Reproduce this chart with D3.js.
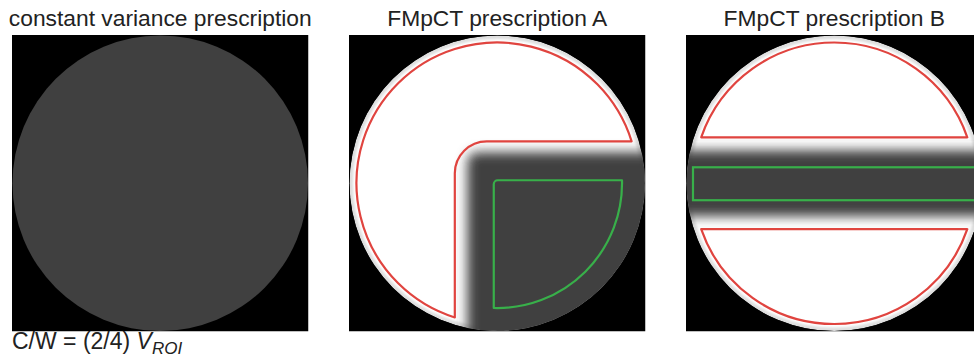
<!DOCTYPE html>
<html>
<head>
<meta charset="utf-8">
<script src="https://cdn.jsdelivr.net/npm/d3@7/dist/d3.min.js"></script>
<style>
  html, body { margin: 0; padding: 0; background: #fff; }
  svg { display: block; }
  text { font-family: "Liberation Sans", Arial, Helvetica, sans-serif; fill: #222; }
</style>
</head>
<body>
<svg id="chart" width="974" height="358"></svg>
<script>
// ---------------- data (phantom geometry, in image units, centre = 0) ----------------
const panelTitles = ["constant variance prescription", "FMpCT prescription A", "FMpCT prescription B"];
const panelKinds = ["constant", "quadrant", "band"];
const imageExtent = [-148.5, 148.5];
const phantomRadius = [148];          // object boundary
const rimInnerRadius = [144.5];       // inside of bright rim
const roiOuterRadius = [141];         // red ROI follows this radius
const grayLevels = { dark: 64, white: 255, rim: 222 };   // 8-bit display values

// prescription A (lower-right quadrant)
const quadDarkCorner = [-30, -31];    // low-variance mask corner (x, y)
const quadRedCorner = [-42.5, -42];   // red ROI inner corner
const quadRedCornerRadius = [32];
const quadGreenCorner = [-3.5, -3];   // green ROI corner
const quadGreenRadius = [125];

// prescription B (horizontal band)
const bandDarkHalf = [33];
const bandRedOffset = [46];
const bandGreen = [-16, 17];          // y extent of green ROI
const bandGreenHalfWidth = [141.5];

const footnote = { main: "C/W = (2/4) ", v: "V", sub: "ROI" };

// ---------------- layout ----------------
const panelSize = 296.5, panelTop = 35, panelStep = 337, panelLeft = 12;
const svg = d3.select("#chart");
const defs = svg.append("defs");
const redColor = "#e0443f", greenColor = "#38b04a";
const g2hex = v => d3.rgb(v, v, v).formatHex();

const x = d3.scaleLinear().domain(imageExtent).range([0, panelSize]);
const y = d3.scaleLinear().domain(imageExtent).range([0, panelSize]);
const r = d3.scaleLinear().domain([0, imageExtent[1] - imageExtent[0]]).range([0, panelSize]);

// filters
function blurFilter(id, sd) {
  defs.append("filter").attr("id", id)
    .attr("filterUnits", "userSpaceOnUse")
    .attr("x", -400).attr("y", -400).attr("width", 1800).attr("height", 1800)
    .append("feGaussianBlur").attr("stdDeviation", sd);
}
blurFilter("blurSoft", 1.1);
blurFilter("blurMask", 6);

panelKinds.forEach((kind, i) => {
  const gx = panelLeft + i * panelStep;
  const g = svg.append("g").attr("transform", `translate(${gx},${panelTop})`);

  // panel clip
  const clipId = "pclip" + i, circId = "cclip" + i;
  defs.append("clipPath").attr("id", clipId)
    .append("rect").attr("x", 0).attr("y", 0).attr("width", panelSize).attr("height", panelSize);
  defs.append("clipPath").attr("id", circId)
    .append("circle").attr("cx", x(0)).attr("cy", y(0)).attr("r", r(phantomRadius[0]));

  const body = g.append("g").attr("clip-path", `url(#${clipId})`);
  body.append("rect").attr("width", panelSize).attr("height", panelSize).attr("fill", "#000");

  // title
  svg.append("text")
    .attr("x", gx + x(0)).attr("y", 26)
    .attr("text-anchor", "middle")
    .attr("font-size", 22.8)
    .text(panelTitles[i]);

  if (kind === "constant") {
    body.append("circle").attr("cx", x(0)).attr("cy", y(0)).attr("r", r(phantomRadius[0]))
      .attr("fill", g2hex(grayLevels.dark));
    return;
  }

  const disk = body.append("g").attr("clip-path", `url(#${circId})`);
  disk.append("circle").attr("cx", x(0)).attr("cy", y(0)).attr("r", r(phantomRadius[0]))
    .attr("fill", g2hex(grayLevels.rim));
  disk.append("circle").attr("cx", x(0)).attr("cy", y(0)).attr("r", r(rimInnerRadius[0]))
    .attr("fill", g2hex(grayLevels.white)).attr("filter", "url(#blurSoft)");

  const R = roiOuterRadius[0];
  if (kind === "quadrant") {
    // low-variance (dark) region, smoothly blended
    disk.append("rect")
      .attr("x", x(quadDarkCorner[0])).attr("y", y(quadDarkCorner[1]))
      .attr("width", r(400)).attr("height", r(400))
      .attr("rx", r(10))
      .attr("fill", g2hex(grayLevels.dark))
      .attr("filter", "url(#blurMask)");

    // red ROI: disk minus the quadrant
    const [rx0, ry0] = quadRedCorner;
    const hx = Math.sqrt(R * R - ry0 * ry0);
    const vy = Math.sqrt(R * R - rx0 * rx0);
    const p = d3.path();
    p.moveTo(x(hx), y(ry0));
    p.arc(x(0), y(0), r(R), Math.atan2(ry0, hx), Math.atan2(vy, rx0), true);
    p.arcTo(x(rx0), y(ry0), x(hx), y(ry0), r(quadRedCornerRadius[0]));
    p.lineTo(x(hx), y(ry0));
    p.closePath();
    g.append("path").attr("d", p.toString())
      .attr("fill", "none").attr("stroke", redColor).attr("stroke-width", 2.2).attr("stroke-linejoin", "round");

    // green ROI: quadrant within radius
    const [qx, qy] = quadGreenCorner, GR = quadGreenRadius[0];
    const ex = Math.sqrt(GR * GR - qy * qy);
    const ey = Math.sqrt(GR * GR - qx * qx);
    const q = d3.path();
    q.moveTo(x(qx), y(qy + 6));
    q.arcTo(x(qx), y(qy), x(qx + 6), y(qy), r(4));
    q.lineTo(x(ex), y(qy));
    q.arc(x(0), y(0), r(GR), Math.atan2(qy, ex), Math.atan2(ey, qx), false);
    q.closePath();
    g.append("path").attr("d", q.toString())
      .attr("fill", "none").attr("stroke", greenColor).attr("stroke-width", 2.2).attr("stroke-linejoin", "round");
  } else {
    const H = bandDarkHalf[0];
    disk.append("rect")
      .attr("x", x(-400)).attr("y", y(-H))
      .attr("width", r(800)).attr("height", r(2 * H))
      .attr("fill", g2hex(grayLevels.dark))
      .attr("filter", "url(#blurMask)");

    const off = bandRedOffset[0];
    const hx = Math.sqrt(R * R - off * off);
    [-1, 1].forEach(s => {
      const p = d3.path();
      p.moveTo(x(-hx), y(s * off));
      if (s < 0) p.arc(x(0), y(0), r(R), Math.atan2(-off, -hx), Math.atan2(-off, hx), false);
      else p.arc(x(0), y(0), r(R), Math.atan2(off, -hx), Math.atan2(off, hx), true);
      p.closePath();
      g.append("path").attr("d", p.toString())
        .attr("fill", "none").attr("stroke", redColor).attr("stroke-width", 2.2).attr("stroke-linejoin", "round");
    });

    g.append("rect")
      .attr("x", x(-bandGreenHalfWidth[0])).attr("y", y(bandGreen[0]))
      .attr("width", r(2 * bandGreenHalfWidth[0])).attr("height", r(bandGreen[1] - bandGreen[0]))
      .attr("fill", "none").attr("stroke", greenColor).attr("stroke-width", 2.2);
  }
});

// footnote
const ft = svg.append("text").attr("x", 12).attr("y", 349).attr("font-size", 23);
ft.append("tspan").text(footnote.main);
ft.append("tspan").attr("font-style", "italic").text(footnote.v);
ft.append("tspan").attr("font-style", "italic").attr("font-size", 17).attr("dy", 5).text(footnote.sub);
</script>
</body>
</html>
